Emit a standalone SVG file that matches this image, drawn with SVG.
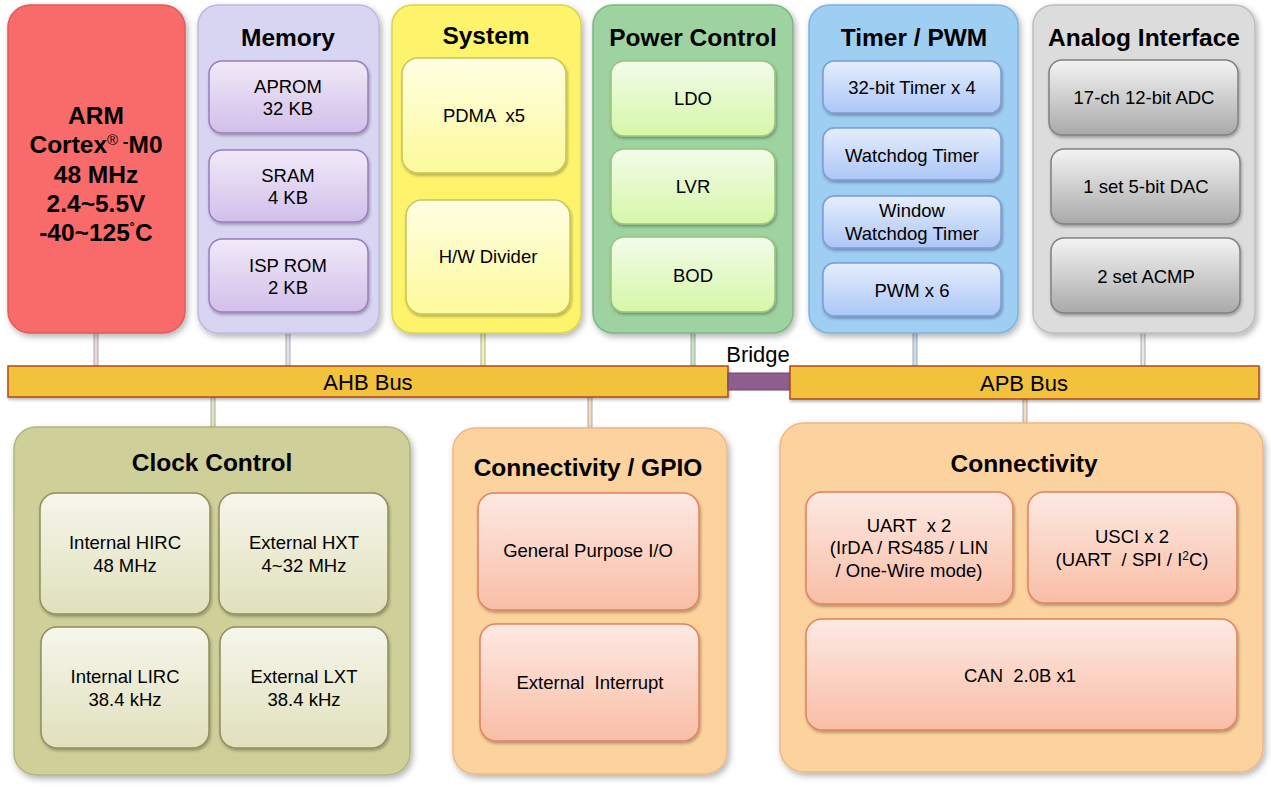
<svg xmlns="http://www.w3.org/2000/svg" width="1271" height="787" viewBox="0 0 1271 787">
<defs>
<filter id="sh" x="-10%" y="-10%" width="125%" height="125%"><feDropShadow dx="2" dy="3" stdDeviation="3" flood-color="#000" flood-opacity="0.3"/></filter>
<filter id="shs" x="-10%" y="-10%" width="125%" height="130%"><feDropShadow dx="1" dy="2" stdDeviation="1.5" flood-color="#000" flood-opacity="0.3"/></filter>
<linearGradient id="gMem" x1="0" y1="0" x2="0" y2="1"><stop offset="0" stop-color="#F0EAF9"/><stop offset="1" stop-color="#D2BFEA"/></linearGradient>
<linearGradient id="gSys" x1="0" y1="0" x2="0" y2="1"><stop offset="0" stop-color="#FFFFE4"/><stop offset="1" stop-color="#FDF99A"/></linearGradient>
<linearGradient id="gPow" x1="0" y1="0" x2="0" y2="1"><stop offset="0" stop-color="#F2FCEA"/><stop offset="1" stop-color="#D6F6A8"/></linearGradient>
<linearGradient id="gTim" x1="0" y1="0" x2="0" y2="1"><stop offset="0" stop-color="#E6EEFD"/><stop offset="1" stop-color="#ABC6F7"/></linearGradient>
<linearGradient id="gAna" x1="0" y1="0" x2="0" y2="1"><stop offset="0" stop-color="#F4F4F4"/><stop offset="1" stop-color="#A9A9A9"/></linearGradient>
<linearGradient id="gClk" x1="0" y1="0" x2="0" y2="1"><stop offset="0" stop-color="#F6F6EC"/><stop offset="1" stop-color="#E0E0BC"/></linearGradient>
<linearGradient id="gCon" x1="0" y1="0" x2="0" y2="1"><stop offset="0" stop-color="#FDE9E3"/><stop offset="1" stop-color="#F9BEA6"/></linearGradient>
</defs>
<style>
text{font-family:"Liberation Sans",Arial,sans-serif;fill:#000;text-anchor:middle;white-space:pre}
.t{font-size:24.5px;font-weight:bold}
.arm{font-size:24.5px;font-weight:bold}
.i{font-size:18.5px}
.bus{font-size:22px}
.outer{filter:url(#sh);stroke-width:1.5}
.inner{filter:url(#shs);stroke-width:1.5}
.conn rect{stroke:#999;stroke-width:0.8}
</style>

<g id="connectors" class="conn">
<rect x="94" y="333" width="4" height="34" fill="#F0D8D8"/>
<rect x="286" y="333" width="4" height="34" fill="#E4E0F0"/>
<rect x="481" y="333" width="4" height="34" fill="#F6F2A8"/>
<rect x="691" y="333" width="4" height="34" fill="#C4E4C4"/>
<rect x="913" y="333" width="4" height="34" fill="#C4E0F4"/>
<rect x="1141" y="333" width="4" height="34" fill="#E8E8E8"/>
<rect x="211" y="397" width="4" height="31" fill="#E4E4C0"/>
<rect x="588" y="397" width="4" height="31" fill="#F6DCC0"/>
<rect x="1023" y="399" width="4" height="26" fill="#F6DCC0"/>
</g>

<g id="ahb-bus">
<rect x="8" y="366" width="720" height="31" fill="#F3C23C" stroke="#B5471B" stroke-width="1.5" filter="url(#shs)"/>
<text class="bus" x="368" y="390">AHB Bus</text>
</g>
<g id="bridge">
<rect x="728" y="373" width="62" height="17" fill="#8E5E8E" stroke="#6E436E" stroke-width="1"/>
<text class="bus" x="758" y="362">Bridge</text>
</g>
<g id="apb-bus">
<rect x="790" y="366" width="469" height="33" fill="#F3C23C" stroke="#B5471B" stroke-width="1.5" filter="url(#shs)"/>
<text class="bus" x="1024" y="391">APB Bus</text>
</g>

<g id="arm">
<rect class="outer" x="8" y="5" width="177" height="328" rx="22" fill="#F96B6B" stroke="#E25A5A"/>
<text class="arm" x="96" y="124">ARM</text>
<text class="arm" x="96" y="153">Cortex<tspan font-size="15" font-weight="normal" baseline-shift="8">®</tspan><tspan font-size="17" baseline-shift="6"> -</tspan>M0</text>
<text class="arm" x="96" y="183">48 MHz</text>
<text class="arm" x="96" y="212">2.4~5.5V</text>
<text class="arm" x="96" y="241">-40~125<tspan font-size="16" baseline-shift="6">˚</tspan>C</text>
</g>

<g id="memory">
<rect class="outer" x="198" y="5" width="181" height="328" rx="20" fill="#D8D5F2" stroke="#BEB8E2"/>
<text class="t" x="288" y="46">Memory</text>
<g id="aprom"><rect class="inner" x="209" y="61" width="159" height="72" rx="13" fill="url(#gMem)" stroke="#9B7CC0"/>
<text class="i" x="288" y="93">APROM</text><text class="i" x="288" y="115">32 KB</text></g>
<g id="sram"><rect class="inner" x="209" y="150" width="159" height="72" rx="13" fill="url(#gMem)" stroke="#9B7CC0"/>
<text class="i" x="288" y="182">SRAM</text><text class="i" x="288" y="204">4 KB</text></g>
<g id="isprom"><rect class="inner" x="209" y="239" width="159" height="73" rx="13" fill="url(#gMem)" stroke="#9B7CC0"/>
<text class="i" x="288" y="272">ISP ROM</text><text class="i" x="288" y="294">2 KB</text></g>
</g>

<g id="system">
<rect class="outer" x="392" y="5" width="189" height="328" rx="20" fill="#FEF46C" stroke="#DCD34E"/>
<text class="t" x="486" y="44">System</text>
<g id="pdma"><rect class="inner" x="402" y="58" width="164" height="115" rx="16" fill="url(#gSys)" stroke="#C7C55A"/>
<text class="i" x="484" y="122">PDMA  x5</text></g>
<g id="hwdiv"><rect class="inner" x="406" y="200" width="164" height="114" rx="16" fill="url(#gSys)" stroke="#C7C55A"/>
<text class="i" x="488" y="263">H/W Divider</text></g>
</g>

<g id="power">
<rect class="outer" x="593" y="5" width="200" height="328" rx="20" fill="#9ED3A1" stroke="#7DB682"/>
<text class="t" x="693" y="46">Power Control</text>
<g id="ldo"><rect class="inner" x="611" y="61" width="164" height="75" rx="13" fill="url(#gPow)" stroke="#9CC27C"/>
<text class="i" x="693" y="105">LDO</text></g>
<g id="lvr"><rect class="inner" x="611" y="149" width="164" height="75" rx="13" fill="url(#gPow)" stroke="#9CC27C"/>
<text class="i" x="693" y="193">LVR</text></g>
<g id="bod"><rect class="inner" x="611" y="237" width="164" height="75" rx="13" fill="url(#gPow)" stroke="#9CC27C"/>
<text class="i" x="693" y="282">BOD</text></g>
</g>

<g id="timer">
<rect class="outer" x="809" y="5" width="209" height="328" rx="20" fill="#9FCEF3" stroke="#7FB2DD"/>
<text class="t" x="914" y="46">Timer / PWM</text>
<g id="timer32"><rect class="inner" x="823" y="61" width="178" height="52" rx="11" fill="url(#gTim)" stroke="#7C9BD8"/>
<text class="i" x="912" y="94">32-bit Timer x 4</text></g>
<g id="wdt"><rect class="inner" x="823" y="128" width="178" height="52" rx="11" fill="url(#gTim)" stroke="#7C9BD8"/>
<text class="i" x="912" y="162">Watchdog Timer</text></g>
<g id="wwdt"><rect class="inner" x="823" y="196" width="178" height="52" rx="11" fill="url(#gTim)" stroke="#7C9BD8"/>
<text class="i" x="912" y="217">Window</text><text class="i" x="912" y="240">Watchdog Timer</text></g>
<g id="pwm"><rect class="inner" x="823" y="263" width="178" height="53" rx="11" fill="url(#gTim)" stroke="#7C9BD8"/>
<text class="i" x="912" y="297">PWM x 6</text></g>
</g>

<g id="analog">
<rect class="outer" x="1033" y="5" width="222" height="328" rx="20" fill="#DCDCDC" stroke="#BDBDBD"/>
<text class="t" x="1144" y="46">Analog Interface</text>
<g id="adc"><rect class="inner" x="1049" y="60" width="189" height="75" rx="13" fill="url(#gAna)" stroke="#808080"/>
<text class="i" x="1144" y="104">17-ch 12-bit ADC</text></g>
<g id="dac"><rect class="inner" x="1051" y="149" width="189" height="75" rx="13" fill="url(#gAna)" stroke="#808080"/>
<text class="i" x="1146" y="193">1 set 5-bit DAC</text></g>
<g id="acmp"><rect class="inner" x="1051" y="238" width="189" height="75" rx="13" fill="url(#gAna)" stroke="#808080"/>
<text class="i" x="1146" y="283">2 set ACMP</text></g>
</g>

<g id="clock">
<rect class="outer" x="14" y="427" width="396" height="348" rx="22" fill="#CFCF99" stroke="#B4B47C"/>
<text class="t" x="212" y="471">Clock Control</text>
<g id="hirc"><rect class="inner" x="40" y="493" width="170" height="121" rx="16" fill="url(#gClk)" stroke="#8F8F5C"/>
<text class="i" x="125" y="549">Internal HIRC</text><text class="i" x="125" y="572">48 MHz</text></g>
<g id="hxt"><rect class="inner" x="219" y="493" width="169" height="121" rx="16" fill="url(#gClk)" stroke="#8F8F5C"/>
<text class="i" x="304" y="549">External HXT</text><text class="i" x="304" y="572">4~32 MHz</text></g>
<g id="lirc"><rect class="inner" x="41" y="627" width="168" height="121" rx="16" fill="url(#gClk)" stroke="#8F8F5C"/>
<text class="i" x="125" y="683">Internal LIRC</text><text class="i" x="125" y="706">38.4 kHz</text></g>
<g id="lxt"><rect class="inner" x="220" y="627" width="168" height="121" rx="16" fill="url(#gClk)" stroke="#8F8F5C"/>
<text class="i" x="304" y="683">External LXT</text><text class="i" x="304" y="706">38.4 kHz</text></g>
</g>

<g id="gpio">
<rect class="outer" x="453" y="428" width="274" height="346" rx="22" fill="#FCD29E" stroke="#EDB884"/>
<text class="t" x="588" y="476">Connectivity / GPIO</text>
<g id="gpio-io"><rect class="inner" x="478" y="493" width="221" height="117" rx="16" fill="url(#gCon)" stroke="#E4805E"/>
<text class="i" x="588" y="557">General Purpose I/O</text></g>
<g id="extint"><rect class="inner" x="480" y="624" width="219" height="117" rx="16" fill="url(#gCon)" stroke="#E4805E"/>
<text class="i" x="590" y="689">External  Interrupt</text></g>
</g>

<g id="connectivity">
<rect class="outer" x="780" y="423" width="483" height="349" rx="24" fill="#FCD29E" stroke="#EDB884"/>
<text class="t" x="1024" y="472">Connectivity</text>
<g id="uart"><rect class="inner" x="806" y="492" width="207" height="112" rx="16" fill="url(#gCon)" stroke="#E4805E"/>
<text class="i" x="909" y="532">UART  x 2</text><text class="i" x="909" y="554">(IrDA / RS485 / LIN</text><text class="i" x="909" y="577">/ One-Wire mode)</text></g>
<g id="usci"><rect class="inner" x="1028" y="492" width="209" height="111" rx="16" fill="url(#gCon)" stroke="#E4805E"/>
<text class="i" x="1132" y="543">USCI x 2</text><text class="i" x="1132" y="566">(UART  / SPI / I<tspan font-size="12" baseline-shift="6">2</tspan>C)</text></g>
<g id="can"><rect class="inner" x="806" y="619" width="431" height="111" rx="16" fill="url(#gCon)" stroke="#E4805E"/>
<text class="i" x="1020" y="682">CAN  2.0B x1</text></g>
</g>
</svg>
